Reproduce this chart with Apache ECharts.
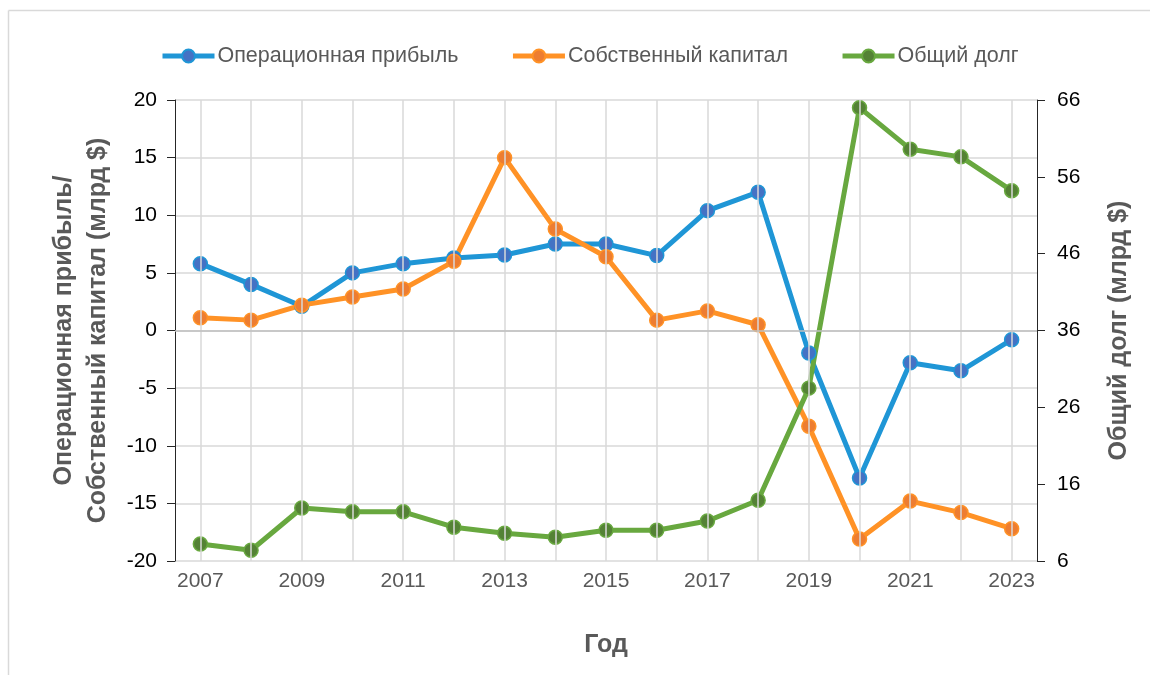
<!DOCTYPE html>
<html>
<head>
<meta charset="utf-8">
<script src="https://cdn.jsdelivr.net/npm/echarts@6/dist/echarts.min.js"></script>
<style>
html,body{margin:0;padding:0;background:#fff;}
#chart{width:1150px;height:675px;}
</style>
</head>
<body>
<div id="chart"></div>
<script>
const years = ['2007','2008','2009','2010','2011','2012','2013','2014','2015','2016','2017','2018','2019','2020','2021','2022','2023'];
const operatingProfit = [5.8, 4.0, 2.1, 5.0, 5.8, 6.3, 6.55, 7.5, 7.5, 6.5, 10.4, 12.0, -1.95, -12.8, -2.8, -3.5, -0.8];
const equity = [1.1, 0.9, 2.2, 2.9, 3.6, 6.0, 15.0, 8.8, 6.4, 0.9, 1.7, 0.5, -8.3, -18.1, -14.8, -15.8, -17.2];
const totalDebt = [8.2, 7.4, 12.9, 12.4, 12.4, 10.4, 9.6, 9.1, 10.0, 10.0, 11.2, 13.9, 28.5, 65.0, 59.6, 58.6, 54.2];
const seriesNames = ['Операционная прибыль', 'Собственный капитал', 'Общий долг'];
const leftAxisName = 'Операционная прибыль/\nСобственный капитал (млрд $)';
const rightAxisName = 'Общий долг (млрд $)';
const xAxisName = 'Год';

const FONT = '"Liberation Sans", Arial, sans-serif';
const chart = echarts.init(document.getElementById('chart'), null, {renderer: 'canvas'});

function lineSeries(name, data, lineColor, markerColor, yIdx) {
  return {
    name: name, type: 'line', data: data, yAxisIndex: yIdx,
    symbol: 'circle', symbolSize: 14,
    lineStyle: {color: lineColor, width: 5},
    itemStyle: {color: markerColor, borderColor: lineColor, borderWidth: 1.5},
    emphasis: {disabled: true},
    z: 3
  };
}

const option = {
  backgroundColor: '#fff',
  animation: false,
  textStyle: {fontFamily: FONT},
  graphic: [
    {type: 'line', shape: {x1: 8.5, y1: 10.5, x2: 1150, y2: 10.5}, style: {stroke: '#d9d9d9', lineWidth: 1.5}, silent: true},
    {type: 'line', shape: {x1: 8.5, y1: 10.5, x2: 8.5, y2: 675}, style: {stroke: '#d9d9d9', lineWidth: 1.5}, silent: true}
  ],
  legend: {
    data: seriesNames,
    top: 40, left: 155,
    itemWidth: 52, itemHeight: 16, itemGap: 52,
    lineStyle: {width: 5},
    textStyle: {fontSize: 21.5, color: '#595959', fontFamily: FONT, padding: [0, 0, 0, -2]}
  },
  grid: {left: 175, right: 113, top: 100, bottom: 114, containLabel: false},
  xAxis: {
    type: 'category', data: years, boundaryGap: true,
    name: xAxisName, nameLocation: 'middle', nameGap: 72,
    nameTextStyle: {fontSize: 25, fontWeight: 'bold', color: '#595959', fontFamily: FONT},
    axisLine: {show: false}, axisTick: {show: false}, splitLine: {show: false},
    axisLabel: {interval: 1, color: '#595959', fontSize: 21, margin: 10, fontFamily: FONT}
  },
  yAxis: [
    {
      type: 'value', min: -20, max: 20, interval: 5, position: 'left',
      name: leftAxisName, nameLocation: 'middle', nameGap: 60, nameRotate: 90,
      nameTextStyle: {fontSize: 25, fontWeight: 'bold', color: '#595959', lineHeight: 34, fontFamily: FONT},
      axisLine: {show: true, lineStyle: {color: '#262626', width: 1}},
      axisTick: {show: true, length: 8, lineStyle: {color: '#262626'}},
      axisLabel: {color: '#000', fontSize: 21, margin: 18, fontFamily: FONT},
      splitLine: {show: true, lineStyle: {color: '#d9d9d9', width: 1.5}}
    },
    {
      type: 'value', min: 6, max: 66, interval: 10, position: 'right',
      name: rightAxisName, nameLocation: 'middle', nameGap: 70, nameRotate: 90,
      nameTextStyle: {fontSize: 25, fontWeight: 'bold', color: '#595959', fontFamily: FONT},
      axisLine: {show: true, lineStyle: {color: '#262626', width: 1}},
      axisTick: {show: true, length: 8, lineStyle: {color: '#262626'}},
      axisLabel: {color: '#000', fontSize: 21, margin: 20, fontFamily: FONT},
      splitLine: {show: false}
    }
  ],
  series: [
    {
      name: 'grid', type: 'line', data: [], yAxisIndex: 0, silent: true, z: 1,
      markLine: {
        silent: true, symbol: ['none', 'none'], animation: false,
        label: {show: false},
        data: years.map(y => ({xAxis: y, lineStyle: {color: '#d9d9d9', width: 1.5, type: 'solid'}}))
          .concat([{yAxis: 0, lineStyle: {color: '#bfbfbf', width: 1.5, type: 'solid'}}])
      }
    },
    lineSeries(seriesNames[0], operatingProfit, '#1f96d6', '#4472c4', 0),
    lineSeries(seriesNames[1], equity, '#ff9226', '#ed7d31', 0),
    lineSeries(seriesNames[2], totalDebt, '#68a83f', '#548235', 1)
  ]
};
chart.setOption(option);
</script>
</body>
</html>
